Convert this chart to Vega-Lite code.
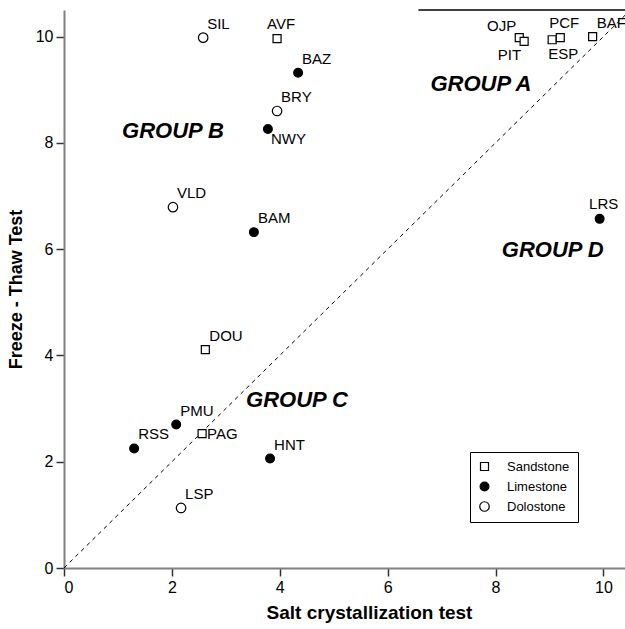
{
  "$schema": "https://vega.github.io/schema/vega-lite/v6.json",
  "autosize": "none",
  "width": 561,
  "height": 558,
  "padding": {"left": 64, "top": 10, "right": 0, "bottom": 61},
  "background": "white",
  "config": {
    "view": {"stroke": null},
    "font": "Liberation Sans",
    "axis": {
      "grid": false,
      "domainColor": "#808080",
      "tickColor": "#333333",
      "domainWidth": 2,
      "tickWidth": 1.5,
      "tickSize": 8,
      "labelFont": "Liberation Sans",
      "labelFontSize": 16,
      "labelColor": "black",
      "titleFont": "Liberation Sans",
      "titleFontWeight": "bold",
      "titleColor": "black"
    },
    "legend": {
      "symbolStrokeWidth": 1.2
    }
  },
  "datasets": {
    "stones": [
      {"code": "SIL", "type": "Dolostone", "salt": 2.58, "freeze": 9.98},
      {"code": "AVF", "type": "Sandstone", "salt": 3.95, "freeze": 9.96},
      {"code": "BAZ", "type": "Limestone", "salt": 4.34, "freeze": 9.32},
      {"code": "BRY", "type": "Dolostone", "salt": 3.95, "freeze": 8.6},
      {"code": "NWY", "type": "Limestone", "salt": 3.78, "freeze": 8.26},
      {"code": "VLD", "type": "Dolostone", "salt": 2.02, "freeze": 6.79},
      {"code": "BAM", "type": "Limestone", "salt": 3.52, "freeze": 6.32},
      {"code": "DOU", "type": "Sandstone", "salt": 2.62, "freeze": 4.11},
      {"code": "PMU", "type": "Limestone", "salt": 2.08, "freeze": 2.7},
      {"code": "PAG", "type": "Sandstone", "salt": 2.56, "freeze": 2.53},
      {"code": "RSS", "type": "Limestone", "salt": 1.3, "freeze": 2.25},
      {"code": "HNT", "type": "Limestone", "salt": 3.82, "freeze": 2.06},
      {"code": "LSP", "type": "Dolostone", "salt": 2.17, "freeze": 1.13},
      {"code": "LRS", "type": "Limestone", "salt": 9.93, "freeze": 6.57},
      {"code": "OJP", "type": "Sandstone", "salt": 8.44, "freeze": 9.98},
      {"code": "PIT", "type": "Sandstone", "salt": 8.53, "freeze": 9.91},
      {"code": "ESP", "type": "Sandstone", "salt": 9.05, "freeze": 9.94},
      {"code": "PCF", "type": "Sandstone", "salt": 9.2, "freeze": 9.98},
      {"code": "BAF", "type": "Sandstone", "salt": 9.8, "freeze": 10.0}
    ],
    "groups": [
      {"label": "GROUP A", "salt": 7.73, "freeze": 9.1},
      {"label": "GROUP B", "salt": 2.02, "freeze": 8.23},
      {"label": "GROUP C", "salt": 4.32, "freeze": 3.17},
      {"label": "GROUP D", "salt": 9.06, "freeze": 5.99}
    ],
    "diag": [
      {"salt": 0, "freeze": 0},
      {"salt": 10.4, "freeze": 10.4}
    ],
    "topline": [
      {"salt": 6.57, "salt2": 10.4, "freeze": 10.5}
    ]
  },
  "encoding": {
    "x": {"field": "salt", "type": "quantitative", "scale": {"domain": [0, 10.4], "nice": false, "zero": false},
          "axis": {"title": "Salt crystallization test", "values": [0, 2, 4, 6, 8, 10], "titleFontSize": 19, "titlePadding": 8, "labelPadding": 3, "titleX": 305}},
    "y": {"field": "freeze", "type": "quantitative", "scale": {"domain": [0, 10.5], "nice": false, "zero": false},
          "axis": {"title": "Freeze - Thaw Test", "values": [0, 2, 4, 6, 8, 10], "titleFontSize": 18, "titlePadding": 10, "labelPadding": 3}}
  },
  "layer": [
    {
      "data": {"name": "diag"},
      "mark": {"type": "line", "color": "black", "strokeDash": [4, 4], "strokeWidth": 1, "clip": true},
      "encoding": {}
    },
    {
      "data": {"name": "topline"},
      "mark": {"type": "rule", "color": "black", "strokeWidth": 1.5},
      "encoding": {"x2": {"field": "salt2"}}
    },
    {
      "data": {"name": "stones"},
      "mark": {"type": "point", "filled": true, "strokeWidth": 1.2, "opacity": 1},
      "encoding": {
        "shape": {"field": "type", "type": "nominal",
                  "scale": {"domain": ["Sandstone", "Limestone", "Dolostone"], "range": ["square", "circle", "circle"]},
                  "legend": {"title": null, "orient": "none", "legendX": 406, "legendY": 442,
                             "strokeColor": "black", "padding": 8, "labelFontSize": 13, "labelFont": "Liberation Sans",
                             "rowPadding": 5, "labelOffset": 16}},
        "fill": {"field": "type", "type": "nominal",
                 "scale": {"domain": ["Sandstone", "Limestone", "Dolostone"], "range": ["white", "black", "white"]},
                 "legend": {"title": null, "orient": "none", "legendX": 406, "legendY": 442}},
        "stroke": {"field": "type", "type": "nominal",
                 "scale": {"domain": ["Sandstone", "Limestone", "Dolostone"], "range": ["black", "black", "black"]},
                 "legend": {"title": null, "orient": "none", "legendX": 406, "legendY": 442}},
        "size": {"field": "type", "type": "nominal",
                 "scale": {"domain": ["Sandstone", "Limestone", "Dolostone"], "range": [64, 90, 60]},
                 "legend": {"title": null, "orient": "none", "legendX": 406, "legendY": 442}}
      }
    },
    {
      "data": {"name": "stones"},
      "transform": [{"filter": {"field": "code", "oneOf": ["SIL", "BAZ", "BRY", "VLD", "BAM", "DOU", "PMU", "HNT", "LSP", "BAF", "RSS"]}}],
      "mark": {"type": "text", "align": "left", "baseline": "alphabetic", "dx": 4, "dy": -9, "fontSize": 15},
      "encoding": {"text": {"field": "code"}}
    },
    {
      "data": {"name": "stones"},
      "transform": [{"filter": {"field": "code", "oneOf": ["AVF", "LRS", "PCF"]}}],
      "mark": {"type": "text", "align": "center", "baseline": "alphabetic", "dx": 4, "dy": -10, "fontSize": 15},
      "encoding": {"text": {"field": "code"}}
    },
    {
      "data": {"name": "stones"},
      "transform": [{"filter": {"field": "code", "oneOf": ["NWY"]}}],
      "mark": {"type": "text", "align": "left", "baseline": "top", "dx": 3, "dy": 3, "fontSize": 15},
      "encoding": {"text": {"field": "code"}}
    },
    {
      "data": {"name": "stones"},
      "transform": [{"filter": {"field": "code", "oneOf": ["ESP"]}}],
      "mark": {"type": "text", "align": "left", "baseline": "top", "dx": -4, "dy": 7, "fontSize": 15},
      "encoding": {"text": {"field": "code"}}
    },
    {
      "data": {"name": "stones"},
      "transform": [{"filter": {"field": "code", "oneOf": ["PAG"]}}],
      "mark": {"type": "text", "align": "left", "baseline": "middle", "dx": 5, "dy": 0, "fontSize": 15},
      "encoding": {"text": {"field": "code"}}
    },
    {
      "data": {"name": "stones"},
      "transform": [{"filter": {"field": "code", "oneOf": ["OJP"]}}],
      "mark": {"type": "text", "align": "right", "baseline": "alphabetic", "dx": -3, "dy": -7, "fontSize": 15},
      "encoding": {"text": {"field": "code"}}
    },
    {
      "data": {"name": "stones"},
      "transform": [{"filter": {"field": "code", "oneOf": ["PIT"]}}],
      "mark": {"type": "text", "align": "right", "baseline": "top", "dx": -3, "dy": 7, "fontSize": 15},
      "encoding": {"text": {"field": "code"}}
    },
    {
      "data": {"name": "groups"},
      "mark": {"type": "text", "align": "center", "baseline": "middle", "fontSize": 22, "fontWeight": "bold", "fontStyle": "italic"},
      "encoding": {"text": {"field": "label"}}
    }
  ]
}
